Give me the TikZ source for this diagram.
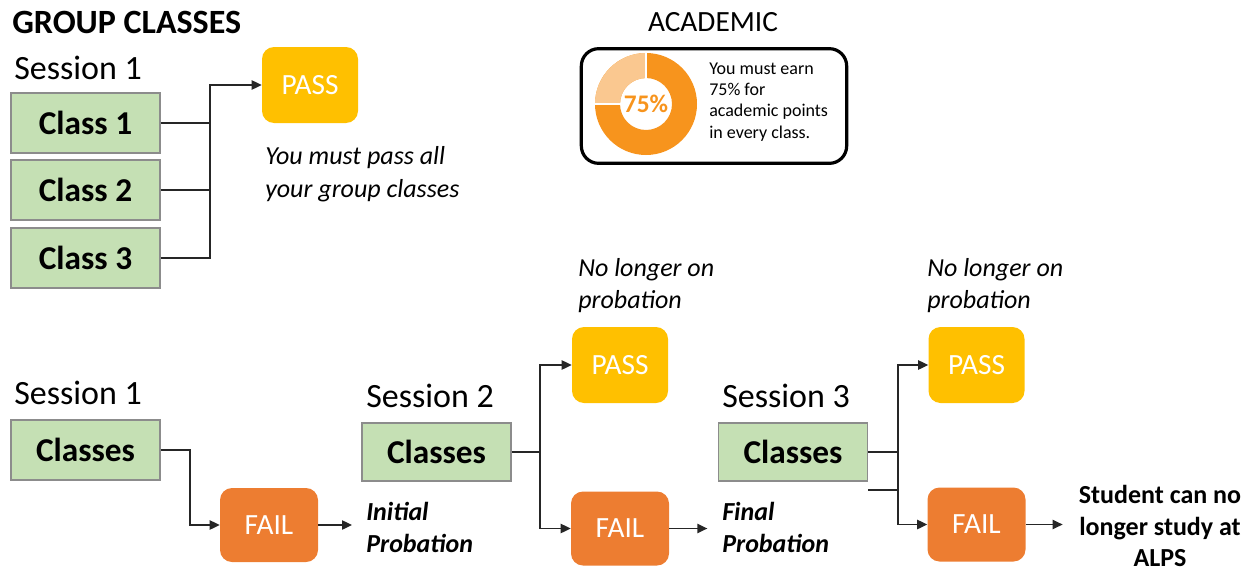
\documentclass[tikz,border=0pt]{standalone}
\usepackage{fontspec}
\setmainfont{Carlito}
\usetikzlibrary{arrows.meta}
\definecolor{classgreen}{HTML}{C5E0B4}
\definecolor{classedge}{HTML}{8C8C8C}
\definecolor{passgold}{HTML}{FFC000}
\definecolor{failorange}{HTML}{ED7D31}
\definecolor{ringdark}{HTML}{F7941D}
\definecolor{ringlight}{HTML}{FAC890}

\begin{document}
\begin{tikzpicture}[x=0.75pt,y=-0.75pt,
    classbox/.style={draw=classedge,fill=classgreen,line width=0.8pt,
      font=\fontsize{25}{30}\selectfont\bfseries,
      minimum width=111.75pt,minimum height=45pt,inner sep=0pt},
    widebox/.style={classbox,minimum height=43.5pt},
    passbox/.style={fill=passgold,rounded corners=9pt,text=white,
      font=\fontsize{22}{26}\selectfont,minimum width=72pt,minimum height=57pt},
    failbox/.style={passbox,fill=failorange,minimum width=73.5pt,minimum height=55.5pt},
    heading/.style={font=\fontsize{25.5}{30}\selectfont,anchor=west,inner sep=0pt},
    note/.style={align=left,anchor=west,inner sep=0pt},
    remark/.style={note,font=\fontsize{19.5}{24}\selectfont\itshape},
    verdict/.style={note,font=\fontsize{19.5}{24}\selectfont\bfseries\itshape},
    wire/.style={draw=black!85,line width=1pt},
    flow/.style={wire,-{Triangle[length=7.5pt,width=7pt]}}]
  \useasboundingbox (0,0) rectangle (1253,571);

  % Group classes
  \node[heading,font=\fontsize{25.5}{30}\selectfont\bfseries] (title) at (12,22) {GROUP CLASSES};
  \node[heading] (s1top) at (14,68) {Session 1};
  \node[classbox] (cls1) at (85.5,123) {Class 1};
  \node[classbox] (cls2) at (85.5,190) {Class 2};
  \node[classbox] (cls3) at (85.5,258) {Class 3};
  \node[passbox] (pass0) at (310,85) {PASS};
  \node[remark,font=\fontsize{19.5}{24.75}\selectfont\itshape] (mustpass) at (265,174)
    {You must pass all\\your group classes};
  \coordinate (jt) at (210,0);
  \draw[wire] (cls1.east) -- (cls1.east -| jt);
  \draw[wire] (cls2.east) -- (cls2.east -| jt);
  \draw[flow] (cls3.east) -| (jt |- pass0.west) -- (pass0.west);

  % Academic
  \node[font=\fontsize{22}{26}\selectfont] (acad) at (713,22) {ACADEMIC};
  \node[draw,line width=2.4pt,rounded corners=13pt,minimum width=199pt,
    minimum height=86pt] (acadbox) at (714,106) {};
  \coordinate (ring) at (646,104);
  \fill[ringdark,even odd rule] (ring) circle[radius=38.25pt] (ring) circle[radius=19.5pt];
  \fill[ringlight] ([shift={(90:38.25pt)}]ring) arc[start angle=90,end angle=180,radius=38.25pt]
    -- ([shift={(180:19.5pt)}]ring) arc[start angle=180,end angle=90,radius=19.5pt] -- cycle;
  \draw[white,line width=1pt] ([shift={(90:19pt)}]ring) -- ([shift={(90:39pt)}]ring);
  \draw[white,line width=1pt] ([shift={(180:19pt)}]ring) -- ([shift={(180:39pt)}]ring);
  \node[text=ringdark,font=\fontsize{19}{22}\selectfont\bfseries] (pct) at (ring) {75\%};
  \node[note,font=\fontsize{13.5}{16}\selectfont] (earn) at (709,102)
    {You must earn\\75\% for\\academic points\\in every class.};

  % Session 1
  \node[heading] (s1) at (14,393) {Session 1};
  \node[classbox] (cl1) at (85.5,450) {Classes};
  \node[failbox] (fail1) at (269,525) {FAIL};
  \node[verdict] (initial) at (366,527) {Initial\\Probation};
  \coordinate (ja) at (190,0);
  \draw[flow] (cl1.east) -| (ja |- fail1.west) -- (fail1.west);
  \draw[flow,shorten >=10.5pt] (fail1.east) -- (fail1.east -| initial.west);

  % Session 2
  \node[heading] (s2) at (366,396) {Session 2};
  \node[widebox] (cl2) at (436.5,452) {Classes};
  \node[passbox] (pass2) at (620,365) {PASS};
  \node[failbox] (fail2) at (620,528.5) {FAIL};
  \node[remark] (off2) at (578,286) {No longer on\\probation};
  \node[verdict] (final) at (722,527) {Final\\Probation};
  \coordinate (jb) at (540,0);
  \draw[wire] (cl2.east) -- (cl2.east -| jb);
  \draw[flow] (cl2.east -| jb) |- (pass2.west);
  \draw[flow] (cl2.east -| jb) |- (fail2.west);
  \draw[flow,shorten >=11pt] (fail2.east) -- (fail2.east -| final.west);

  % Session 3
  \node[heading] (s3) at (722,396) {Session 3};
  \node[widebox] (cl3) at (793,452) {Classes};
  \node[passbox] (pass3) at (976.5,365) {PASS};
  \node[failbox] (fail3) at (976.5,524.5) {FAIL};
  \node[remark] (off3) at (927,286) {No longer on\\probation};
  \node[align=center,inner sep=0pt,font=\fontsize{19.5}{23.5}\selectfont\bfseries] (stop) at (1160,526)
    {Student can no\\longer study at\\ALPS};
  \coordinate (jc) at (898,0);
  \coordinate (stub) at (868,490);
  \draw[wire] (cl3.east) -- (cl3.east -| jc);
  \draw[wire] (stub) -- (stub -| jc);
  \draw[flow] (cl3.east -| jc) |- (pass3.west);
  \draw[flow] (cl3.east -| jc) |- (fail3.west);
  \draw[flow,shorten >=12pt] (fail3.east) -- (fail3.east -| stop.west);
\end{tikzpicture}
\end{document}
